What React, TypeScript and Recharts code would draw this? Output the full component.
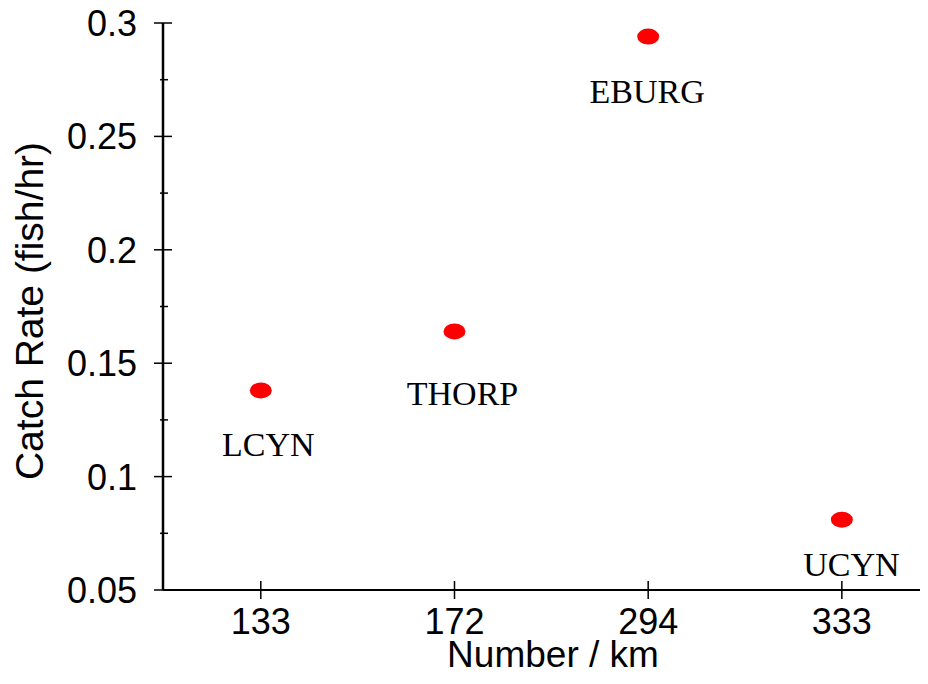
import { ScatterChart, Scatter, XAxis, YAxis, Label } from "recharts";

const sites = ["LCYN", "THORP", "EBURG", "UCYN"];
const distances = ["133", "172", "294", "333"];
const catchRate = [0.138, 0.164, 0.294, 0.081];
const yTicks = [0.05, 0.075, 0.1, 0.125, 0.15, 0.175, 0.2, 0.225, 0.25, 0.275, 0.3];

const data = sites.map((site, i) => ({ idx: i, site, rate: catchRate[i] }));

// where each site name sits relative to its dot (px)
const labelShift: Record<string, [number, number]> = {
  LCYN: [7.5, 66],
  THORP: [8, 74],
  EBURG: [-1, 66],
  UCYN: [9.5, 56],
};

const sans = "'Liberation Sans', Arial, sans-serif";
const serif = "'Liberation Serif', 'Times New Roman', serif";

const xDomain = [-0.505, 3.548];

function Dot(props: any) {
  const { cx, cy, payload } = props;
  const [dx, dy] = labelShift[payload.site] || [0, 60];
  return (
    <g>
      <ellipse cx={cx} cy={cy} rx={11} ry={8} fill="#ff0000" />
      <text
        x={cx + dx}
        y={cy + dy}
        textAnchor="middle"
        fontFamily={serif}
        fontSize={34}
        fill="#000"
      >
        {payload.site}
      </text>
    </g>
  );
}

function XTick(props: any) {
  const { x, y, payload } = props;
  return (
    <g>
      <line x1={x} x2={x} y1={y - 9} y2={y + 9} stroke="#000" strokeWidth={1.5} />
      <text x={x} y={y + 44} textAnchor="middle" fontFamily={sans} fontSize={36} fill="#000">
        {distances[payload.value]}
      </text>
    </g>
  );
}

function YTick(props: any) {
  const { x, y, payload, index } = props;
  const major = index % 2 === 0;
  if (!major) {
    return <line x1={x - 3} x2={x + 5} y1={y} y2={y} stroke="#000" strokeWidth={1.5} />;
  }
  return (
    <g>
      <line x1={x - 9} x2={x + 9} y1={y} y2={y} stroke="#000" strokeWidth={1.5} />
      <text x={x - 26} y={y} dy="0.36em" textAnchor="end" fontFamily={sans} fontSize={36} fill="#000">
        {String(Number(payload.value.toFixed(3)))}
      </text>
    </g>
  );
}

function YTitle(props: any) {
  const vb = props.viewBox || { x: 0, y: 15, width: 155, height: 567 };
  const x = vb.x + 35;
  const y = vb.y + vb.height / 2 + 4.5;
  return (
    <text
      x={x}
      y={y}
      transform={`rotate(-90, ${x}, ${y})`}
      textAnchor="middle"
      fontFamily={sans}
      fontSize={39}
      fill="#000"
    >
      Catch Rate (fish/hr)
    </text>
  );
}

function XTitle() {
  // centred under the visible part of the plot
  return (
    <text
      x={545}
      y={659}
      textAnchor="middle"
      fontFamily={sans}
      fontSize={37}
      fill="#000"
    >
      Number / km
    </text>
  );
}

export default function App() {
  return (
    <div style={{ background: "#fff", width: 920, height: 668, overflow: "hidden" }}>
      <style>{"html, body { overflow: hidden; }"}</style>
      <ScatterChart
        width={940}
        height={668}
        margin={{ top: 15, right: 0, bottom: 0, left: 0 }}
      >
        <XAxis
          dataKey="idx"
          type="number"
          domain={xDomain}
          ticks={[0, 1, 2, 3]}
          allowDataOverflow
          height={86}
          tickSize={0}
          tickMargin={0}
          tickLine={false}
          tick={<XTick />}
          axisLine={{ stroke: "#000", strokeWidth: 2 }}
          interval={0}
        >
          <Label content={<XTitle />} />
        </XAxis>
        <XAxis
          xAxisId="top"
          orientation="top"
          type="number"
          domain={xDomain}
          height={0}
          tick={false}
          tickLine={false}
          axisLine={{ stroke: "#000", strokeWidth: 2 }}
        />
        <YAxis
          dataKey="rate"
          type="number"
          domain={[0.05, 0.3]}
          ticks={yTicks}
          allowDataOverflow
          width={155}
          tickSize={0}
          tickMargin={0}
          tickLine={false}
          tick={<YTick />}
          axisLine={{ stroke: "#000", strokeWidth: 2.5 }}
          interval={0}
        >
          <Label content={<YTitle />} />
        </YAxis>
        <Scatter data={data} shape={<Dot />} isAnimationActive={false} />
      </ScatterChart>
    </div>
  );
}
